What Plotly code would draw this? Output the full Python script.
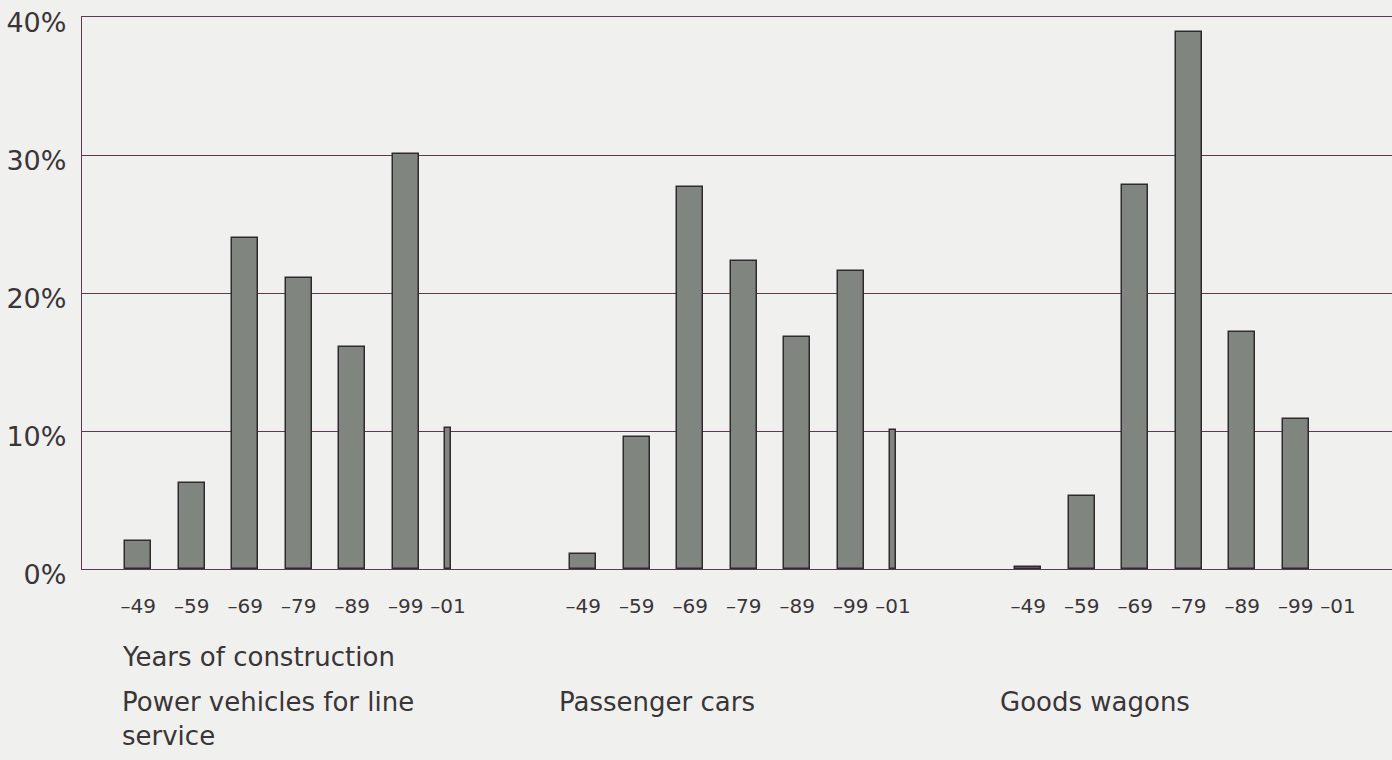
import plotly.graph_objects as go

# ---- data ----
years = ["–49", "–59", "–69", "–79", "–89", "–99", "–01"]
groups = ["Power vehicles for line<br>service", "Passenger cars", "Goods wagons"]
power_vehicles = [2.0, 6.2, 24.0, 21.1, 16.1, 30.1, 10.2]
passenger_cars = [1.1, 9.6, 27.7, 22.3, 16.8, 21.6, 10.1]
goods_wagons = [0.15, 5.3, 27.8, 38.9, 17.2, 10.9, None]
y_ticks = [0, 10, 20, 30, 40]
y_tick_labels = ["0%", "10%", "20%", "30%", "40%"]

series = [power_vehicles, passenger_cars, goods_wagons]

# ---- layout constants ----
GROUP_STEP = 8.32
SLOT = [0, 1, 2, 3, 4, 5, 5.79]
WIDTHS = [0.49, 0.49, 0.49, 0.49, 0.49, 0.49, 0.1]
BAR_COLOR = "#80867f"
EDGE_COLOR = "#2e2a2e"
LINE_COLOR = "#5a3b52"
TEXT_COLOR = "#3a3538"
BG = "#f0f0ee"
FONT = "DejaVu Sans, Arial, sans-serif"

fig = go.Figure()
tickvals, ticktext = [], []
for g, vals in enumerate(series):
    xs = [g * GROUP_STEP + s for s in SLOT]
    tickvals += xs
    ticktext += years
    fig.add_trace(go.Bar(
        x=xs, y=vals, width=WIDTHS,
        marker=dict(color=BAR_COLOR, line=dict(color=EDGE_COLOR, width=1.5)),
        showlegend=False, hoverinfo="y",
    ))

fig.update_layout(
    width=1392, height=760,
    margin=dict(l=82, r=0, t=17, b=191),
    paper_bgcolor=BG, plot_bgcolor=BG,
    font=dict(family=FONT, color=TEXT_COLOR),
    bargap=0,
)
fig.update_xaxes(
    range=[-1.05, 23.44], tickvals=tickvals, ticktext=ticktext,
    showgrid=False, zeroline=False,
    showline=True, mirror=True, linecolor=LINE_COLOR, linewidth=1.3,
    ticks="",
    tickfont=dict(size=20, color=TEXT_COLOR), ticklabelstandoff=19,
)
fig.update_yaxes(
    range=[0, 40], tickvals=y_ticks, ticktext=y_tick_labels,
    showgrid=True, gridcolor=LINE_COLOR, gridwidth=1.3,
    zeroline=True, zerolinecolor=LINE_COLOR, zerolinewidth=1.3,
    showline=True, linecolor=LINE_COLOR, linewidth=1.3,
    ticks="", tickfont=dict(size=27, color=TEXT_COLOR),
    ticklabelstandoff=9, ticklabelshift=6,
)

ann_font = dict(family=FONT, size=26, color=TEXT_COLOR)
fig.add_annotation(text="Years of construction", xref="paper", yref="paper",
                   x=0.029, y=-0.159, xanchor="left", yanchor="middle",
                   showarrow=False, font=ann_font)
label_x = [0.029, 0.3626, 0.699]
for lx, name in zip(label_x, groups):
    fig.add_annotation(text=name, xref="paper", yref="paper",
                       x=lx, y=-0.243, xanchor="left", yanchor="top",
                       yshift=18, align="left",
                       showarrow=False, font=ann_font)

fig.write_html("out.html", config={"displayModeBar": False},
               post_script="document.body.style.margin='0';document.body.style.background='%s';" % BG)
